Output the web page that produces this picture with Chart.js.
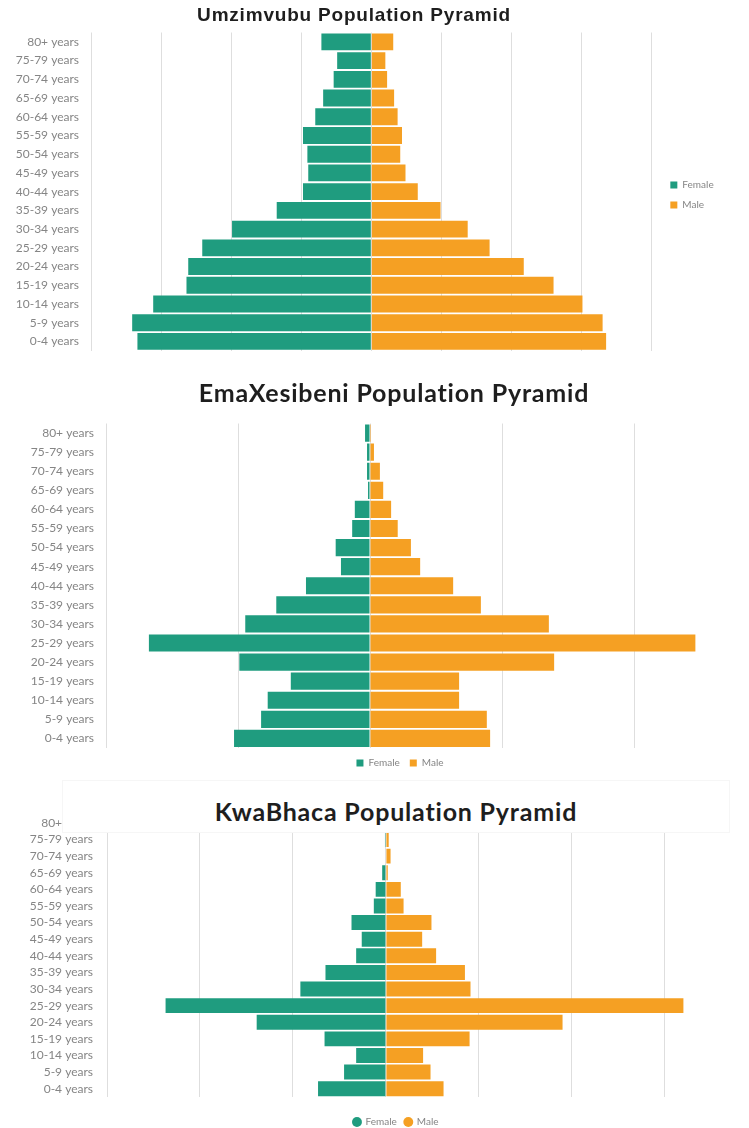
<!DOCTYPE html>
<html>
<head>
<meta charset="utf-8">
<title>Population Pyramids</title>
<script src="https://cdn.jsdelivr.net/npm/chart.js@4.4.1/dist/chart.umd.min.js"></script>
<style>
  body { margin: 0; background: #fff; width: 749px; height: 1128px; overflow: hidden; position: relative; }
  .wrap { position: absolute; left: 0; width: 749px; }
  .ttl { position: absolute; text-align: center; white-space: nowrap; color: #1e1e1e; }
</style>
</head>
<body>
<div class="wrap" style="top:0;height:370px"><canvas id="umzChart"></canvas></div>
<div class="wrap" style="top:370px;height:410px"><canvas id="emaChart"></canvas></div>
<div class="wrap" style="top:780px;height:348px"><canvas id="kwaChart"></canvas></div>

<div class="ttl" style="left:0;top:4px;width:708px;line-height:22px;font:bold 19px 'Liberation Sans', Arial, sans-serif;letter-spacing:0.8px;">Umzimvubu Population Pyramid</div>
<div class="ttl" style="left:40px;top:377px;width:708px;line-height:30px;font:bold 25px Lato, sans-serif;letter-spacing:0.8px;">EmaXesibeni Population Pyramid</div>
<div class="ttl" style="left:62px;top:780px;width:668px;height:53px;line-height:30px;padding-top:15px;box-sizing:border-box;background:#fff;border:1px solid #f6f6f6;font:bold 25px Lato, sans-serif;letter-spacing:0.8px;">KwaBhaca Population Pyramid</div>

<script>
// age bands, top of the pyramid first
const ageGroups = ["80+ years", "75-79 years", "70-74 years", "65-69 years", "60-64 years",
  "55-59 years", "50-54 years", "45-49 years", "40-44 years", "35-39 years", "30-34 years",
  "25-29 years", "20-24 years", "15-19 years", "10-14 years", "5-9 years", "0-4 years"];

// Umzimvubu
const umzFemale = [2850, 1950, 2150, 2750, 3200, 3900, 3650, 3600, 3900, 5400, 7950, 9650, 10450, 10550, 12450, 13650, 13350];
const umzMale = [1250, 800, 900, 1300, 1500, 1750, 1650, 1950, 2650, 3950, 5500, 6750, 8700, 10400, 12050, 13200, 13400];
const umzTicks = [-16000, -12000, -8000, -4000, 0, 4000, 8000, 12000, 16000];
const umzRange = [-16000, 16000];

// EmaXesibeni
const emaFemale = [75, 45, 45, 30, 230, 270, 520, 440, 970, 1420, 1890, 3350, 1980, 1200, 1550, 1650, 2060];
const emaMale = [15, 60, 150, 200, 320, 420, 620, 760, 1260, 1680, 2710, 4930, 2790, 1350, 1350, 1770, 1820];
const emaTicks = [-4000, -2000, 0, 2000, 4000];
const emaRange = [-4000, 5000];

// KwaBhaca
const kwaFemale = [10, 5, 0, 20, 55, 65, 185, 130, 160, 325, 460, 1185, 695, 330, 160, 225, 365];
const kwaMale = [10, 15, 25, 10, 80, 95, 245, 195, 270, 425, 455, 1600, 950, 450, 200, 240, 310];
const kwaTicks = [-1500, -1000, -500, 0, 500, 1000, 1500];
const kwaRange = [-1500, 1700];

const femaleColor = "#1f9c7f";
const maleColor = "#f5a023";
const gridColor = "#dedede";
const textGrey = "#858585";

// moves the legend box so its centre sits at the spot given in the options
const legendPlacer = {
  id: "legendPlacer",
  afterLayout(chart, args, opts) {
    const lg = chart.legend;
    if (!lg || opts.cx == null) return;
    const dx = opts.cx - (lg.left + lg.right) / 2;
    const dy = opts.cy - (lg.top + lg.bottom) / 2;
    lg.left += dx;
    lg.right += dx;
    lg.top += dy;
    lg.bottom += dy;
  },
};

// builds one pyramid, female bars go to the left as negative values
const buildPyramid = (canvasId, female, male, ticks, range, cfg) => {
  return new Chart(document.getElementById(canvasId), {
    type: "bar",
    data: {
      labels: ageGroups,
      datasets: [
        {
          label: "Female",
          data: female.map((v) => -v),
          backgroundColor: femaleColor,
          barPercentage: 0.9,
          categoryPercentage: 1,
        },
        {
          label: "Male",
          data: male,
          backgroundColor: maleColor,
          barPercentage: 0.9,
          categoryPercentage: 1,
        },
      ],
    },
    options: {
      indexAxis: "y",
      responsive: true,
      maintainAspectRatio: false,
      animation: false,
      layout: { padding: cfg.padding },
      scales: {
        x: {
          stacked: true,
          min: range[0],
          max: range[1],
          ticks: { display: false },
          // gridlines only at the listed ticks, not at the axis end
          afterBuildTicks: (scale) => {
            scale.ticks = ticks.map((v) => ({ value: v }));
          },
          grid: { color: gridColor, drawTicks: false },
          border: { display: false },
        },
        y: {
          stacked: true,
          ticks: {
            color: textGrey,
            autoSkip: false,
            padding: cfg.tickPad,
            font: { family: "Lato", size: 12 },
          },
          grid: { display: false, drawTicks: false },
          border: { display: false },
          afterFit: (scale) => {
            scale.width = cfg.yWidth;
          },
        },
      },
      plugins: {
        tooltip: { enabled: false },
        legend: {
          position: cfg.legendPos,
          labels: {
            color: textGrey,
            font: { family: "Lato", size: 10 },
            boxWidth: 7,
            boxHeight: 7,
            padding: cfg.legendPad,
            usePointStyle: cfg.round,
            pointStyle: "circle",
          },
        },
        legendPlacer: cfg.legendAt,
      },
    },
    plugins: [legendPlacer],
  });
};

buildPyramid("umzChart", umzFemale, umzMale, umzTicks, umzRange, {
  padding: { top: 32.5, bottom: 13, left: 0, right: 34 },
  yWidth: 91,
  tickPad: 12,
  legendPos: "right",
  legendPad: 10,
  round: false,
  legendAt: { cx: 692, cy: 195 },
});

buildPyramid("emaChart", emaFemale, emaMale, emaTicks, emaRange, {
  padding: { top: 53.5, bottom: 2, left: 0, right: 49 },
  yWidth: 106,
  tickPad: 12,
  legendPos: "bottom",
  legendPad: 10,
  round: false,
  legendAt: { cx: 400, cy: 393 },
});

buildPyramid("kwaChart", kwaFemale, kwaMale, kwaTicks, kwaRange, {
  padding: { top: 34.6, bottom: 3, left: 0, right: 47 },
  yWidth: 107,
  tickPad: 14,
  legendPos: "bottom",
  legendPad: 8,
  round: true,
  legendAt: { cx: 396, cy: 343 },
});
</script>
</body>
</html>
